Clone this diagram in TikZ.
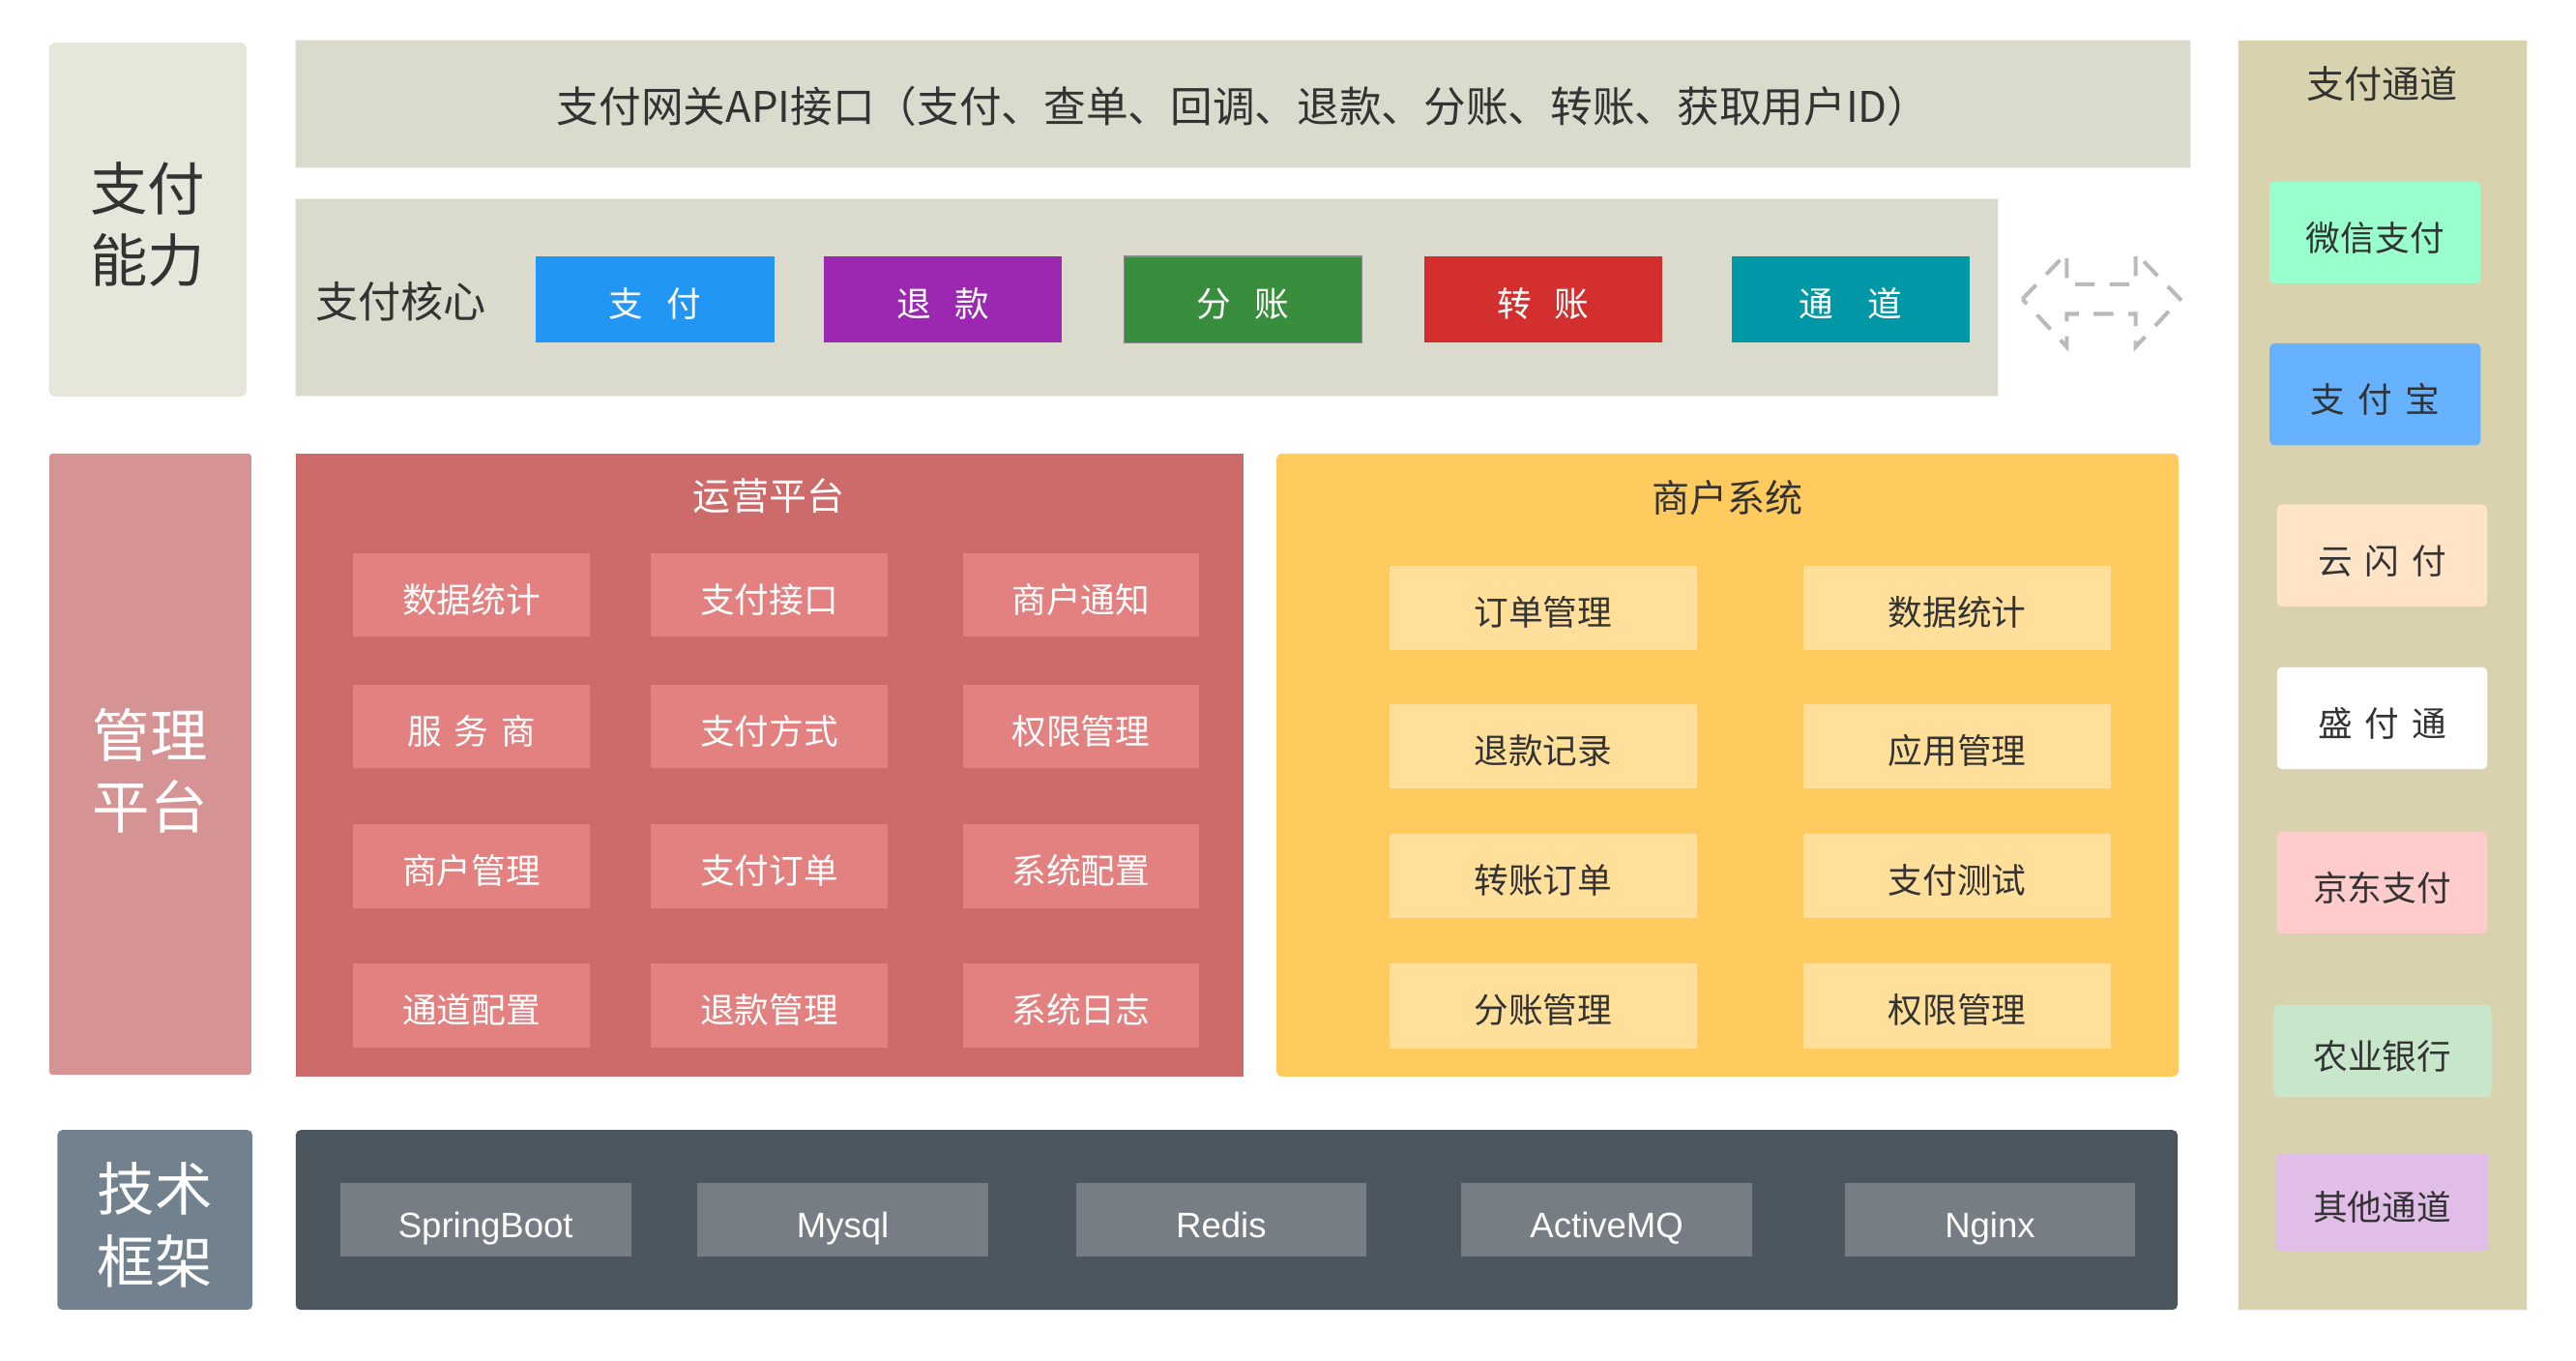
\documentclass[tikz,border=0pt]{standalone}
\usepackage{fontspec}
\setmainfont{Noto Sans CJK SC}
\newfontfamily\latinfont{Liberation Sans}
\usepackage{xcolor}
\usepackage{tikz}
\usetikzlibrary{positioning,calc}

\definecolor{txtdark}{HTML}{333333}
\definecolor{capfill}{HTML}{E6E7DA}
\definecolor{gwfill}{HTML}{DADBCD}
\definecolor{paybl}{HTML}{2196F3}
\definecolor{refpu}{HTML}{9C27B0}
\definecolor{splgr}{HTML}{388E3C}
\definecolor{trfrd}{HTML}{D32F2F}
\definecolor{chnte}{HTML}{0097A7}
\definecolor{chcol}{HTML}{D8D3AE}
\definecolor{wxfill}{HTML}{99FFCC}
\definecolor{alifill}{HTML}{66B2FF}
\definecolor{ysffill}{HTML}{FFE4C8}
\definecolor{jdfill}{HTML}{FFCCCC}
\definecolor{abcfill}{HTML}{C8E6C9}
\definecolor{othfill}{HTML}{E1BEE7}
\definecolor{mgmtfill}{HTML}{D59393}
\definecolor{opsfill}{HTML}{CD6A6A}
\definecolor{opsitem}{HTML}{E38080}
\definecolor{merfill}{HTML}{FFCB5E}
\definecolor{meritem}{HTML}{FFDF9A}
\definecolor{techlab}{HTML}{71828E}
\definecolor{techbar}{HTML}{4C565F}
\definecolor{techitem}{HTML}{777D84}

\newcommand{\cjkgap}{\hspace{0.36em}}
\newcommand{\btngap}{\hspace{0.67em}}

\begin{document}
\begin{tikzpicture}[
 x=1pt,y=-1pt,
 panel/.style={inner sep=0pt,outer sep=0pt},
 bigtxt/.style={panel,align=center,font=\fontsize{35}{44}\selectfont},
 ttl/.style={panel,font=\fontsize{23}{27}\selectfont,text height=17.5pt,text depth=0pt},
 item/.style={panel,font=\fontsize{21}{25}\selectfont,text height=21.4pt,text depth=0pt},
 btn/.style={item,text=white,minimum width=145,minimum height=52.6},
 opsbox/.style={item,fill=opsitem,text=white,minimum width=144,minimum height=51},
 merbox/.style={item,fill=meritem,text=txtdark,minimum width=187.5,minimum height=51.5},
 chbox/.style={item,text=txtdark,text height=22.4pt,rounded corners=3pt,
               minimum width=128.5,minimum height=62},
 techbox/.style={panel,fill=techitem,text=white,font=\latinfont\fontsize{21.5}{25}\selectfont,
                 text height=20.9pt,text depth=0pt,minimum width=177,minimum height=44.7},
 dasharrow/.style={draw=black!27,line width=2.4pt,dash pattern=on 12pt off 9pt}]
\useasboundingbox (0,0) rectangle (1568,828);
% payment capability
\node[panel,fill=capfill,draw=black!10,rounded corners=4pt,
 minimum width=120,minimum height=215] (cap) at (90,133.5) {};
\node[bigtxt,text=txtdark] (captext) at (90,136.5) {支付\\能力};
\node[panel,fill=gwfill,draw=black!5,text=txtdark,font=\fontsize{25.7}{30}\selectfont,
 text height=22.1pt,text depth=0pt,minimum width=1153.5,minimum height=77.5] (gateway) at (756.75,63.25)
 {支付网关API接口（支付、查单、回调、退款、分账、转账、获取用户ID）};
\node[panel,fill=gwfill,draw=black!5,minimum width=1036,minimum height=120] (core) at (698,181) {};
\node[panel,anchor=west,text=txtdark,font=\fontsize{26}{30}\selectfont,
 text height=19.8pt,text depth=0pt] (corelabel) at (192,183.5) {支付核心};
\node[btn,fill=paybl] (pay) at (398.8,182.3) {支\btngap 付};
\node[btn,fill=refpu] (refund) at (574,182.3) {退\btngap 款};
\node[btn,fill=splgr,draw=black!45,line width=0.8pt] (split) at (756.6,182.3) {分\btngap 账};
\node[btn,fill=trfrd] (transfer) at (939.3,182.3) {转\btngap 账};
\node[btn,fill=chnte] (channel) at (1126.5,182.3) {通\hspace{1em}道};
\draw[dasharrow] (1231,182) -- (1258,154) -- (1258,173) -- (1300,173) -- (1300,154)
 -- (1327,182) -- (1300,211) -- (1300,191) -- (1258,191) -- (1258,211) -- cycle;
% payment channels
\node[panel,fill=chcol,draw=black!4,minimum width=176,minimum height=772.5] (chancol) at (1450,410.75) {};
\node[ttl,text=txtdark] (chantitle) at (1450,51) {支付通道};
\node[chbox,fill=wxfill] (wechat) at (1445.75,141.5) {微信支付};
\node[chbox,fill=alifill] (alipay) at (1445.75,240) {支\cjkgap 付\cjkgap 宝};
\node[chbox,fill=ysffill,minimum width=128] (unionpay) at (1450,338) {云\cjkgap 闪\cjkgap 付};
\node[chbox,fill=white,minimum width=128] (shengpay) at (1450,437) {盛\cjkgap 付\cjkgap 通};
\node[chbox,fill=jdfill,minimum width=128] (jdpay) at (1450,537) {京东支付};
\node[chbox,fill=abcfill,minimum width=132.5,minimum height=56] (abc) at (1450.25,639.5) {农业银行};
\node[chbox,fill=othfill,minimum width=130,minimum height=59] (others) at (1450,731.5) {其他通道};
% management platform
\node[panel,fill=mgmtfill,rounded corners=2pt,minimum width=123,minimum height=378] (mgmt) at (91.5,465) {};
\node[bigtxt,text=white] (mgmttext) at (91.5,469) {管理\\平台};
\node[panel,fill=opsfill,minimum width=577,minimum height=379] (ops) at (468.5,465.5) {};
\node[ttl,text=white] (opstitle) at (468,302) {运营平台};
\node[opsbox] (ops11) at (287,362) {数据统计};
\node[opsbox] (ops12) at (468.3,362) {支付接口};
\node[opsbox] (ops13) at (658,362) {商户通知};
\node[opsbox] (ops21) at (287,442) {服\cjkgap 务\cjkgap 商};
\node[opsbox] (ops22) at (468.3,442) {支付方式};
\node[opsbox] (ops23) at (658,442) {权限管理};
\node[opsbox] (ops31) at (287,527) {商户管理};
\node[opsbox] (ops32) at (468.3,527) {支付订单};
\node[opsbox] (ops33) at (658,527) {系统配置};
\node[opsbox] (ops41) at (287,612) {通道配置};
\node[opsbox] (ops42) at (468.3,612) {退款管理};
\node[opsbox] (ops43) at (658,612) {系统日志};
\node[panel,fill=merfill,rounded corners=3pt,minimum width=549,minimum height=379] (merchant) at (1051.5,465.5) {};
\node[ttl,text=txtdark] (mertitle) at (1051.5,303) {商户系统};
\node[merbox] (mer11) at (939.3,370) {订单管理};
\node[merbox] (mer12) at (1191.4,370) {数据统计};
\node[merbox] (mer21) at (939.3,454) {退款记录};
\node[merbox] (mer22) at (1191.4,454) {应用管理};
\node[merbox] (mer31) at (939.3,533) {转账订单};
\node[merbox] (mer32) at (1191.4,533) {支付测试};
\node[merbox] (mer41) at (939.3,612) {分账管理};
\node[merbox] (mer42) at (1191.4,612) {权限管理};
% tech stack
\node[panel,fill=techlab,rounded corners=3pt,minimum width=118.7,minimum height=109.4] (techlabel) at (94.3,742.3) {};
\node[bigtxt,text=white] (techtext) at (94.3,745.3) {技术\\框架};
\node[panel,fill=techbar,rounded corners=3pt,minimum width=1145.5,minimum height=109.4] (tech) at (752.75,742.3) {};
\node[techbox] (spring) at (295.6,742.4) {SpringBoot};
\node[techbox] (mysql) at (513,742.4) {Mysql};
\node[techbox] (redis) at (743.3,742.4) {Redis};
\node[techbox] (activemq) at (978,742.4) {ActiveMQ};
\node[techbox] (nginx) at (1211.3,742.4) {Nginx};
\end{tikzpicture}
\end{document}
